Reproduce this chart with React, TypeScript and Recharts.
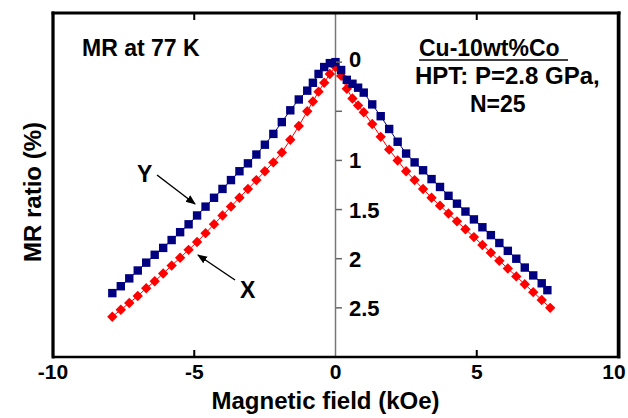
import React from "react";
import { ComposedChart, Scatter, XAxis, YAxis, ReferenceLine, CartesianGrid } from "recharts";

// Y direction (navy squares)
const fieldY = [
  -7.9, -7.6, -7.3, -7.0, -6.7, -6.4, -6.1, -5.8, -5.5, -5.2, -4.9, -4.6, -4.3, -4.0, -3.7, -3.4, -3.1, -2.8,
  -2.5, -2.2, -1.9, -1.6, -1.3, -1.0, -0.8, -0.6, -0.4, -0.2, 0, 0.2, 0.4, 0.6, 0.8, 1.0, 1.3, 1.6, 1.9, 2.2,
  2.5, 2.8, 3.1, 3.4, 3.7, 4.0, 4.3, 4.6, 4.9, 5.2, 5.5, 5.8, 6.1, 6.4, 6.7, 7.0, 7.3, 7.5,
];
const mrY = [
  2.35, 2.28, 2.2, 2.12, 2.04, 1.96, 1.89, 1.81, 1.73, 1.65, 1.56, 1.47, 1.38, 1.29, 1.2, 1.11, 1.03, 0.94,
  0.84, 0.73, 0.61, 0.49, 0.38, 0.29, 0.21, 0.12, 0.05, 0.01, 0.0, 0.08, 0.18, 0.22, 0.26, 0.31, 0.43, 0.55,
  0.68, 0.81, 0.93, 1.02, 1.1, 1.19, 1.27, 1.36, 1.44, 1.52, 1.6, 1.68, 1.76, 1.84, 1.92, 2.0, 2.09, 2.17,
  2.25, 2.32,
];

// X direction (red diamonds)
const fieldX = [
  -7.9, -7.6, -7.3, -7.0, -6.7, -6.4, -6.1, -5.8, -5.5, -5.2, -4.9, -4.6, -4.3, -4.0, -3.7, -3.4, -3.1, -2.8,
  -2.5, -2.2, -1.9, -1.6, -1.3, -1.0, -0.8, -0.6, -0.4, -0.2, 0, 0.2, 0.4, 0.6, 0.8, 1.0, 1.3, 1.6, 1.9, 2.2,
  2.5, 2.8, 3.1, 3.4, 3.7, 4.0, 4.3, 4.6, 4.9, 5.2, 5.5, 5.8, 6.1, 6.4, 6.7, 7.0, 7.3, 7.6,
];
const mrX = [
  2.59, 2.52, 2.45, 2.38, 2.3, 2.23, 2.15, 2.07, 1.99, 1.91, 1.83, 1.74, 1.65, 1.56, 1.47, 1.38, 1.29, 1.2,
  1.11, 1.02, 0.92, 0.79, 0.65, 0.5, 0.4, 0.3, 0.21, 0.12, 0.05, 0.14, 0.27, 0.37, 0.44, 0.51, 0.63, 0.76,
  0.89, 1.0, 1.11, 1.2, 1.29, 1.38, 1.46, 1.54, 1.62, 1.7, 1.78, 1.86, 1.94, 2.02, 2.1, 2.18, 2.26, 2.34,
  2.42, 2.5,
];

const xTicks = [-10, -5, 0, 5, 10];
const yTicks = [0, 0.5, 1, 1.5, 2, 2.5];
const X_DOMAIN = [-10, 10];
const Y_DOMAIN = [-0.5, 3];

const W = 628;
const H = 418;
const MARGIN = { top: 13, right: 9, left: 43, bottom: 6 };
const Y_AXIS_W = 10;
const X_AXIS_H = 55;
const PLOT_LEFT = MARGIN.left + Y_AXIS_W;
const PLOT_RIGHT = W - MARGIN.right;
const PLOT_TOP = MARGIN.top;
const PLOT_BOTTOM = H - MARGIN.bottom - X_AXIS_H;
const X0 = PLOT_LEFT + (PLOT_RIGHT - PLOT_LEFT) / 2;
const FONT = "'Liberation Sans', Arial, Helvetica, sans-serif";

const dataY = fieldY.map((x, i) => ({ x, mr: mrY[i] }));
const dataX = fieldX.map((x, i) => ({ x, mr: mrX[i] }));

const NAVY = "#000080";
const RED = "#ff0000";

function Square(props: any) {
  const { cx, cy } = props;
  return <rect x={cx - 4.2} y={cy - 4.2} width={8.4} height={8.4} fill={NAVY} />;
}

function Diamond(props: any) {
  const { cx, cy } = props;
  const r = 5.2;
  return <polygon points={`${cx},${cy - r} ${cx + r},${cy} ${cx},${cy + r} ${cx - r},${cy}`} fill={RED} />;
}

// y tick labels sit on the x=0 axis, to the right of it
function MidTick(props: any) {
  const { y, payload } = props;
  const v = payload.value;
  return (
    <g>
      <line x1={X0} x2={X0 + 6} y1={y} y2={y} stroke="#666" strokeWidth={1.5} />
      {v !== 0.5 && (
        <text x={X0 + 13} y={y} dy={v === 0 ? 5 : 8} fontSize={22} fontWeight="bold" fontFamily={FONT} fill="#000">
          {String(v)}
        </text>
      )}
    </g>
  );
}

// bottom labels plus inward tick marks on the bottom and top frame
function BottomTick(props: any) {
  const { x, y, payload } = props;
  const v = payload.value;
  const inner = v !== X_DOMAIN[0] && v !== X_DOMAIN[1] && v !== 0;
  return (
    <g>
      {inner && <rect x={x - 1} y={PLOT_BOTTOM - 7} width={2} height={7} fill="#000" />}
      {inner && <rect x={x - 1} y={PLOT_TOP} width={2} height={7} fill="#000" />}
      <text x={v === 10 ? x - 4 : x} y={y} dy={16} textAnchor="middle" fontSize={21} fontWeight="bold" fontFamily={FONT} fill="#000">
        {String(v)}
      </text>
    </g>
  );
}

export default function App() {
  return (
    <div style={{ position: "absolute", left: 0, top: 0, width: W, height: H, background: "#fff" }}>
      <ComposedChart width={W} height={H} margin={MARGIN}>
        <CartesianGrid
          yAxisId="mr"
          horizontal={false}
          vertical={false}
          fill="none"
          stroke="#000"
          strokeWidth={3}
        />
        <XAxis
          type="number"
          dataKey="x"
          domain={X_DOMAIN}
          ticks={xTicks}
          interval={0}
          height={X_AXIS_H}
          tickSize={0}
          tickMargin={6}
          tick={<BottomTick />}
          tickLine={false}
          axisLine={{ stroke: "#000", strokeWidth: 2.5 }}
          label={{
            value: "Magnetic field (kOe)",
            position: "insideBottom",
            offset: 3,
            dx: -10,
            style: { fontSize: 24, fontWeight: "bold", fill: "#000", fontFamily: FONT },
          }}
        />
        <YAxis
          yAxisId="mr"
          type="number"
          dataKey="mr"
          domain={Y_DOMAIN}
          reversed
          ticks={yTicks}
          interval={0}
          width={Y_AXIS_W}
          tickLine={false}
          tick={<MidTick />}
          axisLine={{ stroke: "#000", strokeWidth: 2.5 }}
        />
        <YAxis
          yAxisId="frameR"
          orientation="right"
          type="number"
          domain={Y_DOMAIN}
          width={1}
          tick={false}
          tickLine={false}
          axisLine={{ stroke: "#000", strokeWidth: 2.5 }}
        />
        <ReferenceLine yAxisId="mr" x={0} stroke="#777" strokeWidth={1.5} />
        <Scatter
          yAxisId="mr"
          data={dataX}
          line={{ stroke: RED, strokeWidth: 1 }}
          shape={<Diamond />}
          isAnimationActive={false}
        />
        <Scatter
          yAxisId="mr"
          data={dataY}
          line={{ stroke: NAVY, strokeWidth: 1 }}
          shape={<Square />}
          isAnimationActive={false}
        />
      </ComposedChart>
      <svg
        width={W}
        height={H}
        style={{ position: "absolute", left: 0, top: 0, pointerEvents: "none" }}
        fontFamily={FONT}
        fontWeight="bold"
      >
        <defs>
          <marker id="head" viewBox="0 0 10 10" refX="9" refY="5" markerWidth="10" markerHeight="10" orient="auto" markerUnits="userSpaceOnUse">
            <path d="M0,1 L10,5 L0,9 z" fill="#000" />
          </marker>
        </defs>
        {/* plot frame drawn as filled bars so it survives any stroke handling */}
        <rect x={PLOT_LEFT - 1.5} y={PLOT_TOP - 1.5} width={3} height={PLOT_BOTTOM - PLOT_TOP + 3} fill="#000" />
        <rect x={PLOT_LEFT - 1.5} y={PLOT_TOP - 1.5} width={PLOT_RIGHT - PLOT_LEFT + 3} height={3} fill="#000" />
        <rect x={PLOT_RIGHT - 1.5} y={PLOT_TOP - 1.5} width={3} height={PLOT_BOTTOM - PLOT_TOP + 3} fill="#000" />
        <text x={32} y={192} fontSize={24} textAnchor="middle" dominantBaseline="central" transform="rotate(-90 32 192)">
          MR ratio (%)
        </text>
        <text x={82} y={56} fontSize={23}>MR at 77 K</text>
        <text x={419} y={56} fontSize={23}>Cu-10wt%Co</text>
        <line x1={419} x2={568} y1={60} y2={60} stroke="#000" strokeWidth={1.5} />
        <text x={415} y={84} fontSize={24}>HPT: P=2.8 GPa,</text>
        <text x={470} y={112} fontSize={23}>N=25</text>
        <text x={137} y={182} fontSize={23}>Y</text>
        <line x1={157} y1={175} x2={195} y2={204} stroke="#000" strokeWidth={1.5} markerEnd="url(#head)" />
        <text x={240} y={298} fontSize={23}>X</text>
        <line x1={235} y1={280} x2={198} y2={255} stroke="#000" strokeWidth={1.5} markerEnd="url(#head)" />
      </svg>
    </div>
  );
}
